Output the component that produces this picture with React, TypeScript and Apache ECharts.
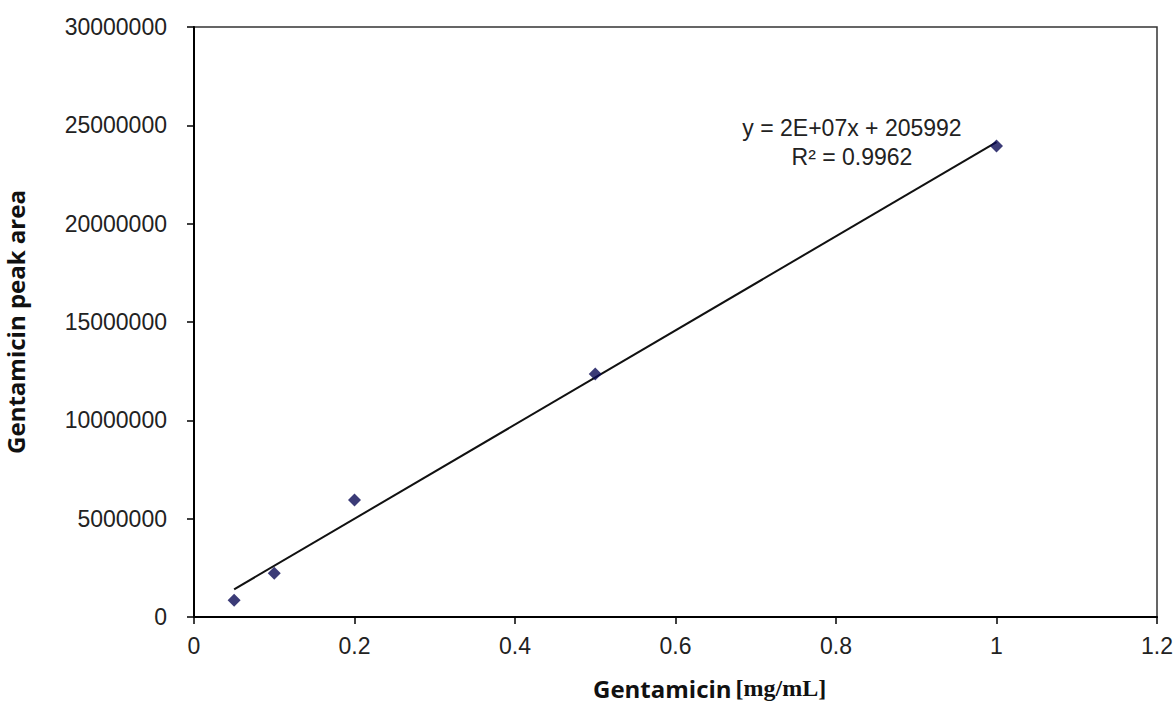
import React, { useEffect, useRef } from "react";
import * as echarts from "echarts";

const concentrations = [0.05, 0.1, 0.2, 0.5, 1.0];
const peakAreas = [850000, 2220000, 5950000, 12350000, 23950000];
const trendX = [0.05, 1.0];
const trendY = [1405000, 24150000];
const equationLines = ["y = 2E+07x + 205992", "R² = 0.9962"];
const xTitle = "Gentamicin";
const xUnit = "[mg/mL]";
const yTitle = "Gentamicin peak area";

export default function App() {
  const ref = useRef<HTMLDivElement>(null);
  useEffect(() => {
    if (!ref.current) return;
    const chart = echarts.init(ref.current, null, { renderer: "svg" });
    const font = "Liberation Sans, Arial, sans-serif";
    chart.setOption({
      animation: false,
      backgroundColor: "#ffffff",
      grid: {
        left: 194,
        right: 19,
        top: 27,
        bottom: 87,
        show: true,
        borderColor: "#333",
        borderWidth: 1.5,
        backgroundColor: "transparent",
        outerBoundsMode: "none",
        containLabel: false,
      },
      xAxis: {
        type: "value",
        min: 0,
        max: 1.2,
        interval: 0.2,
        axisLine: { show: true, onZero: false, lineStyle: { color: "#000", width: 2 } },
        axisTick: { show: true, length: 7, lineStyle: { color: "#000", width: 1.5 } },
        splitLine: { show: false },
        axisLabel: {
          fontFamily: font,
          fontSize: 23,
          color: "#222",
          margin: 17,
          formatter: (v: number) => String(Math.round(v * 10) / 10),
        },
      },
      yAxis: {
        type: "value",
        min: 0,
        max: 30000000,
        interval: 5000000,
        axisLine: { show: true, lineStyle: { color: "#000", width: 2 } },
        axisTick: { show: true, length: 7, lineStyle: { color: "#000", width: 1.5 } },
        splitLine: { show: false },
        axisLabel: {
          fontFamily: font,
          fontSize: 23,
          color: "#222",
          margin: 27,
          formatter: (v: number) => String(v),
        },
        name: yTitle,
        nameLocation: "middle",
        nameGap: 166,
        nameTextStyle: {
          fontFamily: "Open Sans, sans-serif",
          fontWeight: "bold",
          fontSize: 24,
          lineHeight: 26,
          color: "#111",
        },
      },
      series: [
        {
          type: "line",
          data: trendX.map((x, i) => [x, trendY[i]]),
          showSymbol: false,
          symbol: "none",
          lineStyle: { color: "#111", width: 2 },
          silent: true,
          z: 2,
        },
        {
          type: "scatter",
          data: concentrations.map((x, i) => [x, peakAreas[i]]),
          symbol: "diamond",
          symbolSize: [13, 13],
          itemStyle: { color: "#0a0a55" },
          z: 3,
        },
      ],
      graphic: [
        {
          type: "text",
          x: 852,
          y: 113,
          style: {
            text: equationLines.join("\n"),
            fontFamily: font,
            fontSize: 23,
            lineHeight: 29,
            fill: "#222",
            align: "center",
            verticalAlign: "top",
          },
        },
        {
          type: "text",
          x: 593,
          y: 688,
          style: {
            text: `{a|${xTitle}}{b|${xUnit}}`,
            align: "left",
            verticalAlign: "middle",
            rich: {
              a: { fontFamily: "Open Sans, sans-serif", fontWeight: "bold", fontSize: 24, lineHeight: 26, fill: "#111", padding: [0, 4, 0, 0] },
              b: { fontFamily: "Liberation Serif, serif", fontWeight: "bold", fontSize: 24, lineHeight: 26, fill: "#111" },
            },
          },
        },
      ],
    });
    return () => chart.dispose();
  }, []);
  return (
    <div
      ref={ref}
      style={{ position: "fixed", left: 0, top: 0, width: 1176, height: 704 }}
    />
  );
}
